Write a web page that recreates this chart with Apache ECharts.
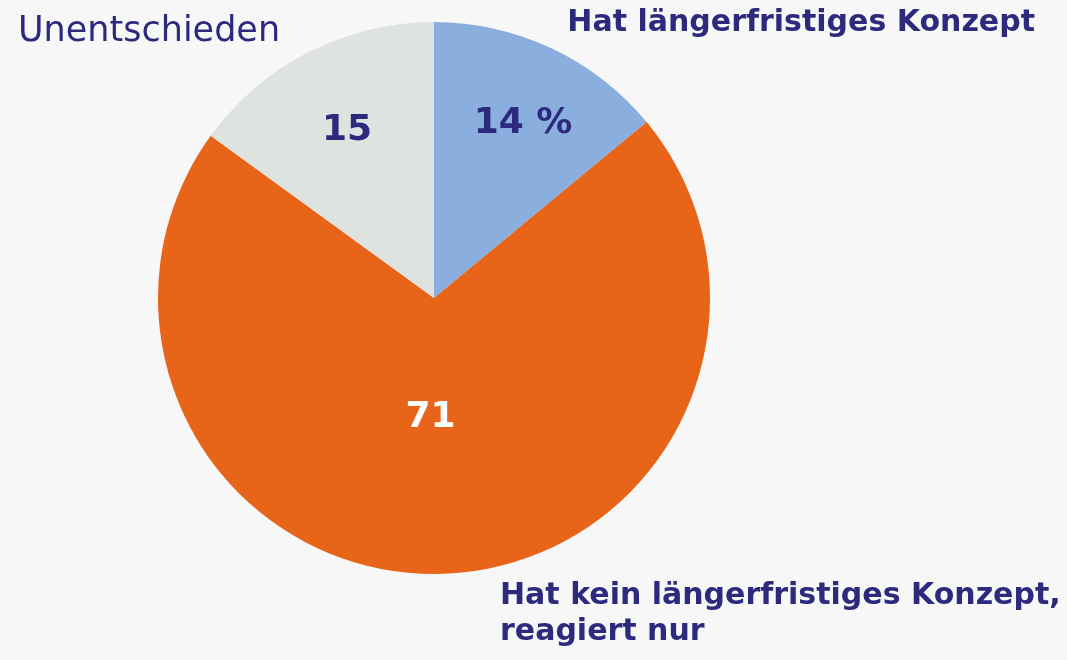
<!DOCTYPE html>
<html>
<head>
<meta charset="utf-8">
<script src="https://cdn.jsdelivr.net/npm/echarts@6/dist/echarts.min.js"></script>
<style>
  html, body { margin: 0; padding: 0; background: #f7f7f7; }
  #chart { width: 1067px; height: 660px; }
</style>
</head>
<body>
<div id="chart"></div>
<script type="text/javascript">
// Anteile in Prozent
var names = ['Hat längerfristiges Konzept', 'Hat kein längerfristiges Konzept, reagiert nur', 'Unentschieden'];
var values = [14, 71, 15];
var insideLabels = ['14 %', '71', '15'];
var colors = ['#8aaedd', '#e86418', '#dfe3e0'];

var navy = '#2d2a7e';
var fontFam = '"DejaVu Sans", sans-serif';

// Verschiebung der Innenbeschriftung je Segment
var labelOffsets = [[29, -47], [-8, -21], [-23, -42]];
var labelColors = [navy, '#ffffff', navy];

var chart = echarts.init(document.getElementById('chart'));

var pieData = [];
for (var i = 0; i < values.length; i++) {
    pieData.push({
        value: values[i],
        name: names[i],
        itemStyle: { color: colors[i] },
        label: {
            formatter: insideLabels[i],
            offset: labelOffsets[i],
            color: labelColors[i]
        }
    });
}

chart.setOption({
    backgroundColor: '#f7f7f7',
    animation: false,
    series: [{
        type: 'pie',
        center: [434, 298],
        radius: 276,
        startAngle: 90,
        clockwise: true,
        silent: true,
        label: {
            show: true,
            position: 'inside',
            fontFamily: fontFam,
            fontWeight: 'bold',
            fontSize: 36
        },
        labelLine: { show: false },
        data: pieData
    }],
    graphic: [
        {
            type: 'text', left: 18, top: 14,
            style: { text: 'Unentschieden', fill: navy, font: 'normal 35px ' + fontFam }
        },
        {
            type: 'text', right: 32, top: 8,
            style: { text: 'Hat längerfristiges Konzept', fill: navy, font: 'bold 30px ' + fontFam }
        },
        {
            type: 'text', left: 500, top: 578,
            style: {
                text: 'Hat kein längerfristiges Konzept,\nreagiert nur',
                fill: navy, font: 'bold 30px ' + fontFam, lineHeight: 36
            }
        }
    ]
});
</script>
</body>
</html>
